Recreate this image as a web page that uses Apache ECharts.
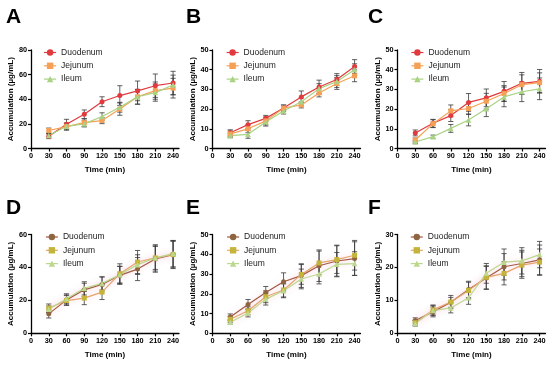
<!DOCTYPE html>
<html>
<head>
<meta charset="utf-8">
<script src="https://cdn.jsdelivr.net/npm/echarts@6/dist/echarts.min.js"></script>
<style>html,body{margin:0;padding:0;background:#fff;}#c{width:550px;height:366px;}</style>
</head>
<body>
<div id="c"></div>
<script>
const times = [30, 60, 90, 120, 150, 180, 210, 240];
const xTicks = [0, 30, 60, 90, 120, 150, 180, 210, 240];
const tissues = ['Duodenum', 'Jejunum', 'Ileum'];
const panelLetters = ['A', 'B', 'C', 'D', 'E', 'F'];
const yMax = [80, 50, 50, 60, 50, 30];
const yStep = [20, 10, 10, 20, 10, 10];

// Panel A
const A_duo = [10, 19.7, 27.8, 38, 43, 46.8, 51, 53.2];
const A_duo_err = [2, 4, 3.5, 4, 8, 8, 9.5, 9.5];
const A_jej = [14.6, 17.8, 21, 22.7, 32, 42, 47, 49];
const A_jej_err = [2, 3, 3, 2.5, 5, 6, 7, 8];
const A_ile = [10.5, 18, 20, 26, 33.5, 42, 45.4, 51.6];
const A_ile_err = [1.5, 2, 2.5, 3, 4, 6, 7, 8];
// Panel B
const B_duo = [8.0, 12.1, 15.3, 20.6, 26.2, 31.2, 35, 41.6];
const B_duo_err = [1.5, 2, 1.5, 1.5, 3, 3.5, 3, 3.5];
const B_jej = [7.4, 10, 14, 20.5, 22.1, 28.2, 33, 36.9];
const B_jej_err = [1.5, 2, 2, 1.5, 1.5, 2, 3, 3];
const B_ile = [6.5, 7.2, 13.4, 19, 23.7, 30.4, 34, 40];
const B_ile_err = [1, 2, 2, 1.5, 2, 2.5, 3, 3];
// Panel C
const C_duo = [7.9, 12.8, 16.7, 23.4, 25.7, 29, 33.1, 34.1];
const C_duo_err = [1.5, 2, 3, 4.5, 4.5, 5, 5.5, 6];
const C_jej = [4.3, 12.6, 19.1, 20.3, 24, 27.9, 32.4, 33.4];
const C_jej_err = [1, 2, 3, 3, 4, 4, 5, 5];
const C_ile = [3.3, 6, 10.2, 14.5, 20.2, 26.2, 28.8, 30.3];
const C_ile_err = [0.8, 0.8, 2, 3, 4, 5, 5, 5.5];
// Panel D
const D_duo = [11.8, 20.3, 26.4, 29.7, 35.2, 39, 45.1, 47.8];
const D_duo_err = [2.5, 3, 4, 4.5, 5.5, 7, 8, 8.5];
const D_jej = [15.3, 19.9, 21.4, 25, 36.2, 43.3, 45.8, 47.8];
const D_jej_err = [2.5, 3, 4, 4.5, 6, 7, 8, 8];
const D_ile = [14.6, 21, 27.3, 30.3, 35.6, 41.7, 45.8, 48.4];
const D_ile_err = [2, 3, 4, 4, 5, 6, 7, 8];
// Panel E
const E_duo = [8.3, 14.6, 20.7, 26.1, 29.2, 34.2, 36.6, 37.8];
const E_duo_err = [1.5, 2.5, 3, 4.5, 6, 8, 8, 8.5];
const E_jej = [7.1, 11.4, 18.5, 21.9, 29.8, 35.6, 37.3, 39.5];
const E_jej_err = [1.5, 2, 3, 3.5, 5, 6, 7, 7.5];
const E_ile = [5.6, 10.3, 17.3, 21.5, 27.5, 30, 34.9, 35.3];
const E_ile_err = [1, 2, 3, 3.5, 5, 5, 6, 6];
// Panel F
const F_duo = [3.9, 6.5, 9.4, 13.3, 16.8, 20.2, 21.2, 22.3];
const F_duo_err = [0.8, 1.5, 1.5, 2.5, 3.5, 4, 4, 4.5];
const F_jej = [3.2, 7.1, 9.5, 13, 17, 18.2, 20.7, 21.6];
const F_jej_err = [0.8, 1.5, 2, 2.5, 3.5, 3.5, 4, 4];
const F_ile = [3, 6.9, 7.7, 10.8, 18.2, 21.6, 22, 23.9];
const F_ile_err = [0.8, 1.5, 1.5, 2, 3, 4, 4, 4];

const panelValues = [
  [A_duo, A_jej, A_ile], [B_duo, B_jej, B_ile], [C_duo, C_jej, C_ile],
  [D_duo, D_jej, D_ile], [E_duo, E_jej, E_ile], [F_duo, F_jej, F_ile]
];
const panelErrors = [
  [A_duo_err, A_jej_err, A_ile_err], [B_duo_err, B_jej_err, B_ile_err], [C_duo_err, C_jej_err, C_ile_err],
  [D_duo_err, D_jej_err, D_ile_err], [E_duo_err, E_jej_err, E_ile_err], [F_duo_err, F_jej_err, F_ile_err]
];

const FONT = '"Liberation Sans", Arial, sans-serif';
const topMarker = ['#e03a3e', '#f6a055', '#a9d283'];
const topLine = ['#e03a3e', '#f6a055', '#a9d283'];
const botMarker = ['#8f6440', '#c4b43a', '#bcd88e'];
const botLine = ['#a0583f', '#e7a46a', '#bcd88e'];
const symbols = ['circle', 'rect', 'triangle'];

const gridLefts = [31, 212.5, 397.5];
const gridTops = [50, 234.5];
const gridW = 148, gridH = [98.5, 98.8];

const grids = [], xAxes = [], yAxes = [], series = [], legends = [], graphics = [];
const legendOffsets = [12.5, 13.5, 13.3, 14.3, 14, 12.7];

function renderErr(params, api) {
  const x = api.value(0), lo = api.value(1), hi = api.value(2);
  const p1 = api.coord([x, lo]), p2 = api.coord([x, hi]);
  const w = 2.6;
  const st = { stroke: '#3a3a3a', lineWidth: 0.8 };
  return {
    type: 'group',
    children: [
      { type: 'line', shape: { x1: p1[0], y1: p1[1], x2: p2[0], y2: p2[1] }, style: st },
      { type: 'line', shape: { x1: p1[0] - w, y1: p1[1], x2: p1[0] + w, y2: p1[1] }, style: st },
      { type: 'line', shape: { x1: p2[0] - w, y1: p2[1], x2: p2[0] + w, y2: p2[1] }, style: st }
    ]
  };
}

for (let p = 0; p < 6; p++) {
  const row = Math.floor(p / 3), col = p % 3;
  const left = gridLefts[col], top = gridTops[row];
  grids.push({ left: left, top: top, width: gridW, height: gridH[row] });
  xAxes.push({
    type: 'value', gridIndex: p, min: 0, max: 250, interval: 30,
    name: 'Time (min)', nameLocation: 'middle', nameGap: 17,
    nameTextStyle: { fontFamily: FONT, fontWeight: 'bold', fontSize: 8, color: '#000' },
    axisLine: { show: true, lineStyle: { color: '#000', width: 1.3 } },
    axisTick: { show: true, length: 3, lineStyle: { color: '#000', width: 1.2 }, customValues: xTicks },
    axisLabel: { fontFamily: FONT, fontWeight: 'bold', fontSize: 7.3, color: '#000', margin: 4, customValues: xTicks },
    splitLine: { show: false }
  });
  yAxes.push({
    type: 'value', gridIndex: p, min: 0, max: yMax[p], interval: yStep[p],
    name: 'Accumulation (µg/mL)', nameLocation: 'middle', nameGap: 16,
    nameTextStyle: { fontFamily: FONT, fontWeight: 'bold', fontSize: 8, color: '#000' },
    axisLine: { show: true, lineStyle: { color: '#000', width: 1.3 } },
    axisTick: { show: true, length: 3, lineStyle: { color: '#000', width: 1.2 } },
    axisLabel: { fontFamily: FONT, fontWeight: 'bold', fontSize: 7.3, color: '#000', margin: 4 },
    splitLine: { show: false }
  });
  const mc = row === 0 ? topMarker : botMarker;
  const lc = row === 0 ? topLine : botLine;
  for (let s = 0; s < 3; s++) {
    const vals = panelValues[p][s];
    const ls = { color: lc[s], width: 1.2 };
    if (row === 1) { ls.shadowColor = 'rgba(240,140,175,0.35)'; ls.shadowBlur = 6; }
    series.push({
      type: 'line', xAxisIndex: p, yAxisIndex: p, name: tissues[s],
      symbol: symbols[s], symbolSize: s === 2 ? 5.5 : 5, showSymbol: true,
      itemStyle: { color: mc[s] }, lineStyle: ls, z: 2, animation: false,
      data: times.map((t, i) => [t, vals[i]])
    });
  }
  for (let s = 0; s < 3; s++) {
    const vals = panelValues[p][s];
    const errs = panelErrors[p][s];
    series.push({
      type: 'custom', xAxisIndex: p, yAxisIndex: p, name: 'sd-' + tissues[s],
      renderItem: renderErr, encode: { x: 0, y: [1, 2] }, z: 1, silent: true,
      data: times.map((t, i) => [t, vals[i] - errs[i], vals[i] + errs[i]])
    });
  }
  legends.push({
    orient: 'vertical', left: left + legendOffsets[p], top: top - 2.5,
    itemWidth: 12, itemHeight: 8, itemGap: 3.3, padding: 0, selectedMode: false,
    textStyle: { fontFamily: FONT, fontSize: 8.5, color: '#222', lineHeight: 10 },
    data: tissues.map((n, s) => ({
      name: n,
      itemStyle: { color: mc[s] }, lineStyle: { color: lc[s], width: 1.2 }
    }))
  });
  const letterX = [6, 186, 368][col];
  const letterY = [7, 198][row];
  graphics.push({
    type: 'text', left: letterX, top: letterY,
    style: { text: panelLetters[p], font: 'bold 21px ' + FONT, fill: '#000' }
  });
}

const chart = echarts.init(document.getElementById('c'), null, { renderer: 'canvas' });
chart.setOption({
  backgroundColor: '#fff',
  animation: false,
  grid: grids, xAxis: xAxes, yAxis: yAxes, series: series, legend: legends, graphic: graphics
});
</script>
</body>
</html>
